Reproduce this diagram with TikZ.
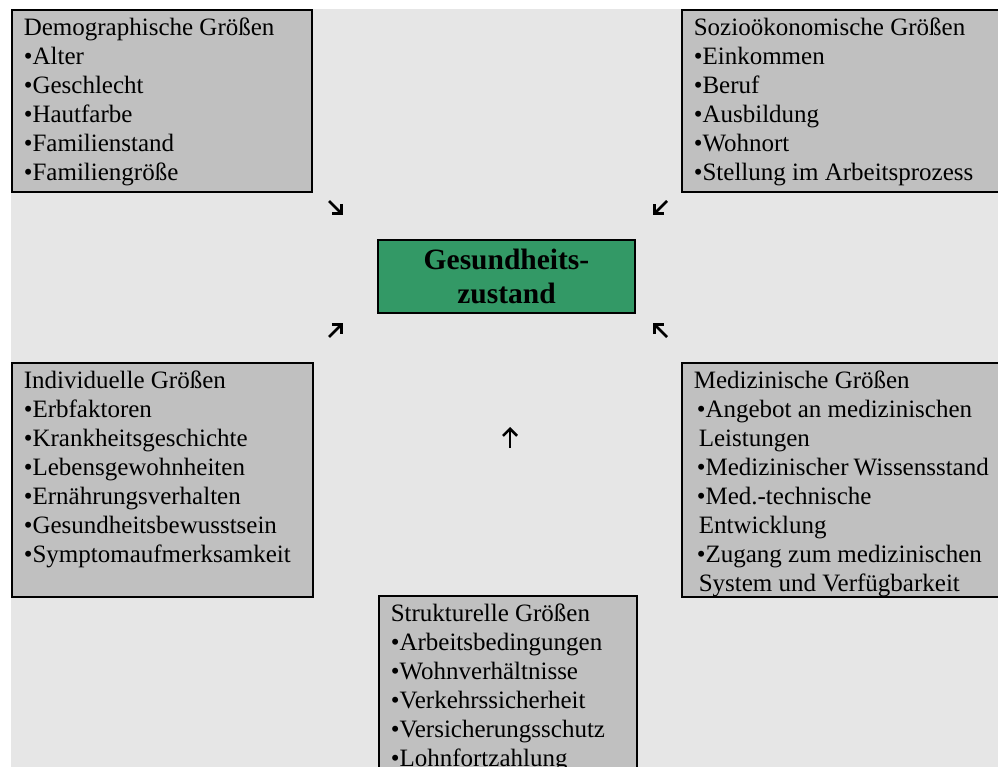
\documentclass[tikz,border=0pt]{standalone}
\usepackage{fontspec}
\setmainfont{Liberation Serif}
\usepackage[HTML]{xcolor}
\usetikzlibrary{positioning, arrows, arrows.meta}
\definecolor{bggray}{HTML}{E6E6E6}
\definecolor{boxgray}{HTML}{C0C0C0}
\definecolor{zustgreen}{HTML}{339966}

\begin{document}
\begin{tikzpicture}[x=1pt,y=-1pt,
  faktor/.style={draw=black,line width=1.6pt,fill=boxgray,anchor=north west,
    inner xsep=12pt,inner ysep=8pt,font=\fontsize{25}{29}\selectfont},
  zustand/.style={draw=black,line width=1.6pt,fill=zustgreen,align=center,
    minimum width=257pt,minimum height=73pt,inner sep=0pt,
    font=\bfseries\fontsize{29.5}{34}\selectfont},
  wirkt/.style={-{Straight Barb[length=7pt,width=14pt]},line width=2.6pt}]
\useasboundingbox (0,0) rectangle (998,767);
\clip (0,0) rectangle (998,767);
% background
\fill[bggray] (11,9) rectangle (998,767);
% influence boxes
\node[faktor] (demo) at (11,9) {\parbox[t][166pt][t]{276pt}{Demographische Größen\\
  \textbullet Alter\\ \textbullet Geschlecht\\ \textbullet Hautfarbe\\
  \textbullet Familienstand\\ \textbullet Familiengröße}};
\node[faktor] (sozio) at (681,9) {\parbox[t][166pt][t]{295pt}{Sozioökonomische Größen\\
  \textbullet Einkommen\\ \textbullet Beruf\\ \textbullet Ausbildung\\
  \textbullet Wohnort\\ \textbullet Stellung im Arbeitsprozess}};
\node[faktor] (indiv) at (11,362) {\parbox[t][218pt][t]{277pt}{Individuelle Größen\\
  \textbullet Erbfaktoren\\ \textbullet Krankheitsgeschichte\\ \textbullet Lebensgewohnheiten\\
  \textbullet Ernährungsverhalten\\ \textbullet Gesundheitsbewusstsein\\
  \textbullet Symptomaufmerksamkeit}};
\node[faktor] (mediz) at (681,362) {\parbox[t][218pt][t]{295pt}{Medizinische Größen\\
  \hspace*{3pt}\textbullet Angebot an medizinischen\\ \hspace*{5pt}Leistungen\\
  \hspace*{3pt}\textbullet Medizinischer Wissensstand\\
  \hspace*{3pt}\textbullet Med.-technische\\ \hspace*{5pt}Entwicklung\\
  \hspace*{3pt}\textbullet Zugang zum medizinischen\\ \hspace*{5pt}System und Verfügbarkeit}};
\node[faktor] (struk) at (378,595) {\parbox[t][159pt][t]{234pt}{Strukturelle Größen\\
  \textbullet Arbeitsbedingungen\\ \textbullet Wohnverhältnisse\\
  \textbullet Verkehrssicherheit\\ \textbullet Versicherungsschutz\\
  \textbullet Lohnfortzahlung}};
% health state
\node[zustand] (zust) at (506.5,276.5) {Gesundheits-\\zustand};
% arrows
\coordinate (a1) at (329,201); \coordinate (b1) at (343,215);
\coordinate (a2) at (667,201); \coordinate (b2) at (653,215);
\coordinate (a3) at (329,337); \coordinate (b3) at (343,323);
\coordinate (a4) at (667,337); \coordinate (b4) at (653,323);
\coordinate (a5) at (510,448); \coordinate (b5) at (510,427);
\foreach \i in {1,...,5} \draw[wirkt] (a\i) -- (b\i);
\end{tikzpicture}
\end{document}
